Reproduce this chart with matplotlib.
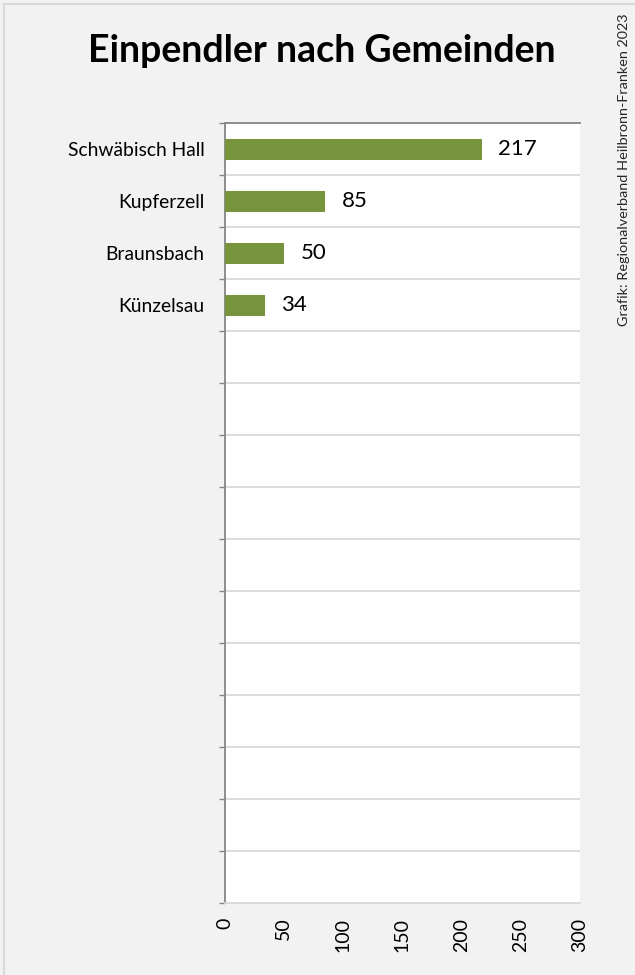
import matplotlib
matplotlib.use("Agg")
from matplotlib import pyplot as plt
from matplotlib.lines import Line2D
import numpy as np

# data
gemeinden = ["Schwäbisch Hall", "Kupferzell", "Braunsbach", "Künzelsau"]
einpendler = [217, 85, 50, 34]
n_slots = 15  # Excel-Diagramm mit leeren Kategorien
x_ticks = [0, 50, 100, 150, 200, 250, 300]

titel = "Einpendler nach Gemeinden"
quelle = "Grafik: Regionalverband Heilbronn-Franken 2023"

bar_color = "#77933c"
bg = "#f2f2f2"
grid_color = "#d9d9d9"
axis_color = "#868686"

plt.rcParams['font.family'] = ['Lato', 'DejaVu Sans']

W, H = 635, 975
fig = plt.figure(figsize=(W / 100, H / 100), dpi=100)
fig.patch.set_facecolor(bg)

# frame lines around the chart area
fig.add_artist(Line2D([4 / W, 4 / W], [0, 1 - 3.5 / H], color=grid_color, lw=1.5))
fig.add_artist(Line2D([4 / W, 1], [1 - 3.5 / H, 1 - 3.5 / H], color=grid_color, lw=1.5))

left, right, top, bottom = 224.5, 580, 123.5, 903
ax = fig.add_axes([left / W, 1 - bottom / H, (right - left) / W, (bottom - top) / H])
ax.set_facecolor("white")

labels = gemeinden + [""] * (n_slots - len(gemeinden))
pos = np.arange(n_slots)
ax.barh(pos[:len(gemeinden)], einpendler, height=0.4, color=bar_color, zorder=3)

for p, v in zip(pos, einpendler):
    ax.annotate(str(v), (v, p), xytext=(12, 0), textcoords="offset points",
                ha="left", va="center", fontsize=16, color="black")

ax.set_xlim(0, 300)
ax.set_ylim(n_slots - 0.5, -0.5)

ax.set_yticks(pos)
ax.set_yticklabels(labels, fontsize=13.9)
ax.set_yticks(np.arange(n_slots + 1) - 0.5, minor=True)
ax.tick_params(axis="y", which="major", length=0, pad=14.5)
ax.tick_params(axis="y", which="minor", length=4.5, width=1, color=axis_color, direction="out")
ax.grid(axis="y", which="minor", color=grid_color, lw=1.3, zorder=0)

ax.set_xticks(x_ticks)
ax.set_xticklabels([str(t) for t in x_ticks], rotation=90, fontsize=14)
ax.tick_params(axis="x", length=0, pad=10.5)

ax.spines["right"].set_visible(False)
ax.spines["left"].set_color(axis_color)
ax.spines["left"].set_linewidth(1.3)
ax.spines["top"].set_color(axis_color)
ax.spines["top"].set_linewidth(1.3)
ax.spines["bottom"].set_color(grid_color)
ax.spines["bottom"].set_linewidth(1.3)

fig.text(321.5 / W, 1 - 62 / H, titel, ha="center", va="baseline",
         fontsize=27, fontweight="bold", color="black")

fig.text(623.5 / W, 1 - 13 / H, quelle, rotation=90, ha="center", va="top",
         fontsize=10.4, color="#262626")

fig.savefig("out.png", dpi=100, facecolor=bg)
